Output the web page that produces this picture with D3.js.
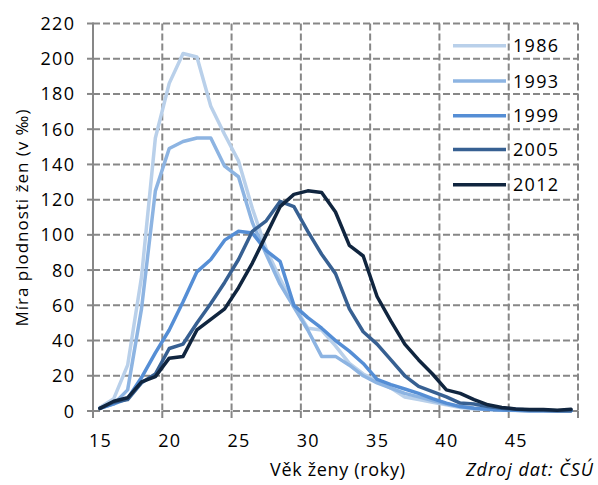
<!DOCTYPE html>
<html><head><meta charset="utf-8">
<script src="https://cdn.jsdelivr.net/npm/d3@7"></script>
<style>
html,body{margin:0;padding:0;background:#fff;}
svg{display:block;font-family:"Open Sans",sans-serif;}
</style></head>
<body><svg id="c" width="598" height="485"></svg>
<script>
const ages = d3.range(15, 50);
const years = ["1986","1993","1999","2005","2012"];
const colors = ["#b9d0ea","#8db4e2","#558ed5","#376092","#10253f"];
const v1986 = [2,7,26,76,155,186,203,201,173,157,142,115,92,75,60,47,46,37,27,21,17,13,8,6.5,5,3.5,2,1.2,0.8,0.5,0.3,0.2,0.1,0.1,0.1];
const v1993 = [1.5,4,12,58,125,149,153,155,155,139,133,107,89,72,59,46,31,31,26,20,16,13,10,8,6,4,2.5,1.5,1,0.6,0.4,0.2,0.1,0.1,0.1];
const v1999 = [1.5,4,7,19,33,46,62,79,86,97,102,101,91,85,60,53,47,40,34,27,18,15,12.5,10,7,4.5,2.5,1.5,1,0.6,0.4,0.2,0.1,0.1,0.1];
const v2005 = [1.5,5,6.5,16,21,35.5,38,50,61,73,86,102,108,119,116,102,89,78,58,45,38,29,20,14,11,8,4.5,4,2.5,1.5,1,0.6,0.4,0.2,0.2];
const v2012 = [1.5,5.5,7.5,16.5,19.5,30,31,46,52,58,70,84,100,116,123,125,124,113,94,88,65,51,38,29,21,12,10,6.5,3.5,2,1.2,0.8,0.8,0.4,1];
const seriesValues = [v1986,v1993,v1999,v2005,v2012];
const yTicks = d3.range(0, 221, 20);
const xTickLabels = [15,20,25,30,35,40,45];
const yTitle = "Míra plodnosti žen (v ‰)";
const xTitle = "Věk ženy (roky)";
const source = "Zdroj dat: ČSÚ";

const svg = d3.select("#c");
const L = 93, R = 578, T = 23.5, B = 411;
const x = d3.scaleBand().domain(ages).range([L, R]).padding(0);
const bw = x.bandwidth();
const cx = a => x(a) + bw/2;
const y = d3.scaleLinear().domain([0, 220]).range([B, T]);
const grid = "#878787";
const g = svg.append("g");

g.selectAll("line.hg").data(yTicks).join("line")
  .attr("x1", L).attr("x2", R).attr("y1", d=>y(d)).attr("y2", d=>y(d))
  .attr("stroke", grid).attr("stroke-width", 2).attr("stroke-dasharray", "7,3");
const vLines = [20,25,30,35,40,45].map(a => x(a)).concat([R]);
g.selectAll("line.vg").data(vLines).join("line")
  .attr("x1", d=>d).attr("x2", d=>d).attr("y1", T).attr("y2", B)
  .attr("stroke", grid).attr("stroke-width", 2).attr("stroke-dasharray", "7,3");
g.selectAll("line.xt").data([L].concat(vLines)).join("line")
  .attr("x1", d=>d).attr("x2", d=>d).attr("y1", B).attr("y2", B+7)
  .attr("stroke", grid).attr("stroke-width", 2);
g.append("line").attr("x1", L).attr("x2", L).attr("y1", T-1).attr("y2", B+1)
  .attr("stroke", grid).attr("stroke-width", 2);
g.selectAll("line.yt").data(yTicks).join("line")
  .attr("x1", L-6).attr("x2", L).attr("y1", d=>y(d)).attr("y2", d=>y(d))
  .attr("stroke", grid).attr("stroke-width", 2);

svg.selectAll("text.yl").data(yTicks).join("text")
  .attr("x", 75.3).attr("y", d=>y(d)+6.5).attr("text-anchor","end")
  .attr("letter-spacing", 1.3)
  .attr("font-size", 18).attr("fill","#000").text(d=>d);
svg.selectAll("text.xl").data(xTickLabels).join("text")
  .attr("x", d=>cx(d)+0.6).attr("y", 447).attr("text-anchor","middle")
  .attr("letter-spacing", 1.3)
  .attr("font-size", 18).attr("fill","#000").text(d=>d);

const line = d3.line().x((d,i)=>cx(ages[i])).y(d=>y(d));
svg.selectAll("path.s").data(seriesValues).join("path")
  .attr("d", d=>line(d)).attr("fill","none")
  .attr("stroke", (d,i)=>colors[i]).attr("stroke-width", 3.5)
  .attr("stroke-linejoin","round").attr("stroke-linecap","round");

const lg = svg.append("g");
const ly = [45.7, 81, 115.7, 149.5, 184.7];
years.forEach((yr,i)=>{
  lg.append("line").attr("x1",453).attr("x2",506).attr("y1",ly[i]).attr("y2",ly[i])
    .attr("stroke",colors[i]).attr("stroke-width",3.5);
  lg.append("text").attr("x",513).attr("y",ly[i]+6.5).attr("font-size",18)
    .attr("textLength",45).attr("lengthAdjust","spacing")
    .attr("fill","#000").text(yr);
});

svg.append("text").attr("transform","translate(28,218) rotate(-90)")
  .attr("text-anchor","middle").attr("font-size",17).attr("fill","#000")
  .attr("textLength",217).attr("lengthAdjust","spacing").text(yTitle);
svg.append("text").attr("x",270).attr("y",476)
  .attr("textLength",135).attr("lengthAdjust","spacing")
  .attr("font-size",18).attr("fill","#000").text(xTitle);
svg.append("text").attr("x",466).attr("y",476)
  .attr("textLength",127).attr("lengthAdjust","spacing")
  .attr("font-size",18).attr("font-style","italic").attr("fill","#000").text(source);
</script></body></html>
